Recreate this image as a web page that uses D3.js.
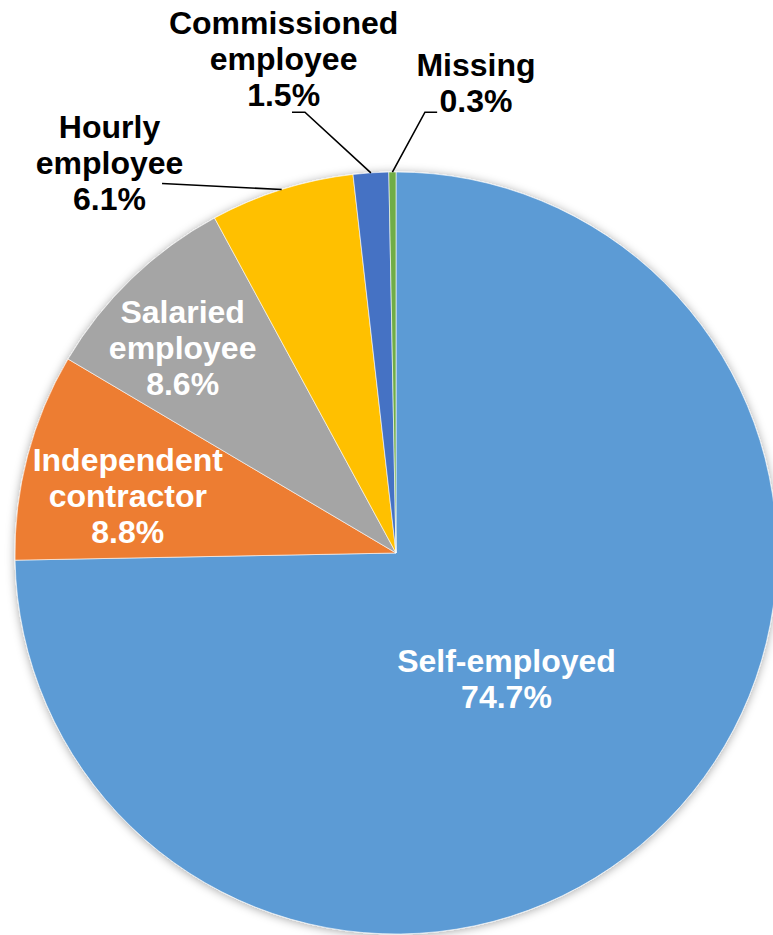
<!DOCTYPE html>
<html>
<head>
<meta charset="utf-8">
<script src="https://cdn.jsdelivr.net/npm/d3@7"></script>
<style>
  html, body { margin: 0; padding: 0; background: #fff; }
  svg { display: block; }
  text { font-family: "Liberation Sans", Arial, sans-serif; font-weight: bold; }
</style>
</head>
<body>
<svg id="chart" width="773" height="935"></svg>
<script>
// ---- data ----
const categories = ["Self-employed", "Independent contractor", "Salaried employee", "Hourly employee", "Commissioned employee", "Missing"];
const values = [74.7, 8.8, 8.6, 6.1, 1.5, 0.3];
const labelLines = [["Self-employed"], ["Independent", "contractor"], ["Salaried", "employee"], ["Hourly", "employee"], ["Commissioned", "employee"], ["Missing"]];
const colors = ["#5B9BD5", "#ED7D31", "#A5A5A5", "#FFC000", "#4472C4", "#70AD47"];

// ---- layout (label anchors relative to pie center, in units of radius) ----
const W = 773, H = 935;
const cx = 396, cy = 553, R = 381;
const labelLayout = [
  { pos: [0.29, 0.33], inside: true },
  { pos: [-0.704, -0.15], inside: true },
  { pos: [-0.56, -0.54], inside: true },
  { pos: [-0.752, -1.026], inside: false, end: [-0.614, -0.97] },
  { pos: [-0.295, -1.297], inside: false, elbow: [-0.239, -1.157], end: [-0.273, -1.157] },
  { pos: [0.21, -1.235], inside: false, elbow: [0.076, -1.157], end: [0.108, -1.157] }
];
const fontSize = 32, lineH = 36;

const svg = d3.select("#chart");
const defs = svg.append("defs");
const f = defs.append("filter").attr("id", "shadow").attr("x", "-10%").attr("y", "-10%").attr("width", "120%").attr("height", "120%");
f.append("feDropShadow").attr("dx", 0).attr("dy", 1).attr("stdDeviation", 5).attr("flood-color", "#000").attr("flood-opacity", 0.35);

const g = svg.append("g").attr("transform", `translate(${cx},${cy})`);

const data = categories.map((c, i) => ({ name: c, value: values[i], lines: labelLines[i], color: colors[i], layout: labelLayout[i] }));

const pie = d3.pie().sort(null).value(d => d.value);
const arc = d3.arc().innerRadius(0).outerRadius(R);
const arcs = pie(data);

const pg = g.append("g").attr("filter", "url(#shadow)");
pg.selectAll("path").data(arcs).join("path")
  .attr("d", arc)
  .attr("fill", d => d.data.color)
  .attr("stroke", "#fff")
  .attr("stroke-width", 0.6);

// leader lines
const edge = d => {
  const a = (d.startAngle + d.endAngle) / 2;
  return [R * Math.sin(a), -R * Math.cos(a)];
};
arcs.filter(d => !d.data.layout.inside).forEach(d => {
  const L = d.data.layout;
  const pts = [edge(d)];
  if (L.elbow) pts.push([L.elbow[0] * R, L.elbow[1] * R]);
  pts.push([L.end[0] * R, L.end[1] * R]);
  g.append("path")
    .attr("d", d3.line()(pts))
    .attr("fill", "none")
    .attr("stroke", "#000")
    .attr("stroke-width", 1.6);
});

// labels
arcs.forEach(d => {
  const L = d.data.layout;
  const lines = d.data.lines.concat([d3.format(".1f")(d.data.value) + "%"]);
  const x = L.pos[0] * R, y = L.pos[1] * R;
  const t = g.append("text")
    .attr("text-anchor", "middle")
    .attr("font-size", fontSize)
    .attr("fill", L.inside ? "#fff" : "#000");
  const n = lines.length;
  lines.forEach((s, i) => {
    t.append("tspan")
      .attr("x", x)
      .attr("y", y + (i - (n - 1) / 2) * lineH + fontSize * 0.36)
      .text(s);
  });
});
</script>
</body>
</html>
